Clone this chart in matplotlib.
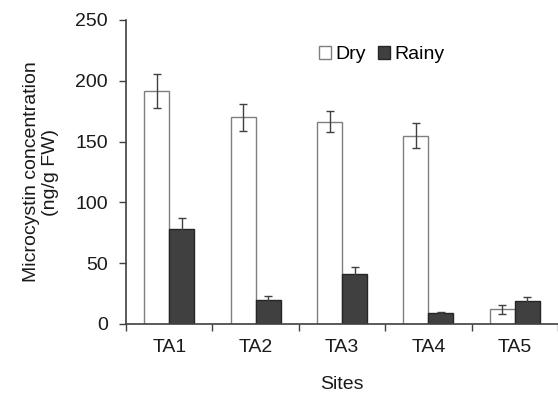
import numpy as np
import matplotlib.pyplot as plt

plt.rcParams['font.family'] = ['Liberation Sans', 'DejaVu Sans']

sites = ['TA1', 'TA2', 'TA3', 'TA4', 'TA5']
dry = [191.5, 170, 166.5, 155, 12]
dry_err = [14, 11, 9, 10, 4]
rainy = [78.5, 20, 41.5, 9, 19]
rainy_err = [9, 3, 5, 1, 3]

fig = plt.figure(figsize=(5.58, 4), dpi=100)
ax = fig.add_axes([0.226, 0.19, 0.774, 0.76])

x = np.arange(len(sites)) + 0.5
w = 0.29
err_kw = dict(ecolor='#404040', elinewidth=1, capsize=3, capthick=1)
ax.bar(x - w / 2, dry, w, yerr=dry_err, color='white', edgecolor='#7f7f7f',
       linewidth=1, label='Dry', error_kw=err_kw)
ax.bar(x + w / 2, rainy, w, yerr=rainy_err, color='#404040', edgecolor='#262626',
       linewidth=1, label='Rainy', error_kw=err_kw)

ax.set_xlim(0, len(sites))
ax.set_ylim(0, 250)
ax.set_yticks(range(0, 251, 50))
ax.set_xticks(x)
ax.set_xticklabels(sites)
ax.set_xticks(np.arange(len(sites) + 1), minor=True)
ax.tick_params(axis='x', which='major', length=0, pad=11, labelsize=14, labelcolor='#1a1a1a')
ax.tick_params(axis='x', which='minor', length=5, width=1, color='#404040')
ax.tick_params(axis='y', length=5, width=1, color='#404040', labelsize=14,
               pad=8, labelcolor='#1a1a1a')

for s in ['top', 'right']:
    ax.spines[s].set_visible(False)
for s in ['left', 'bottom']:
    ax.spines[s].set_color('#404040')
    ax.spines[s].set_linewidth(1.2)

ax.set_xlabel('Sites', fontsize=14, labelpad=14, color='#1a1a1a')
ax.set_ylabel('Microcystin concentration\n(ng/g FW)', fontsize=14, labelpad=12,
              color='#1a1a1a', linespacing=1.1)

ax.legend(loc='center left', bbox_to_anchor=(0.447, 0.885), ncol=2, frameon=False,
          fontsize=14, handlelength=0.6, handleheight=0.6, handletextpad=0.25,
          columnspacing=0.6, borderpad=0, borderaxespad=0)

fig.savefig('out.png', dpi=100)
